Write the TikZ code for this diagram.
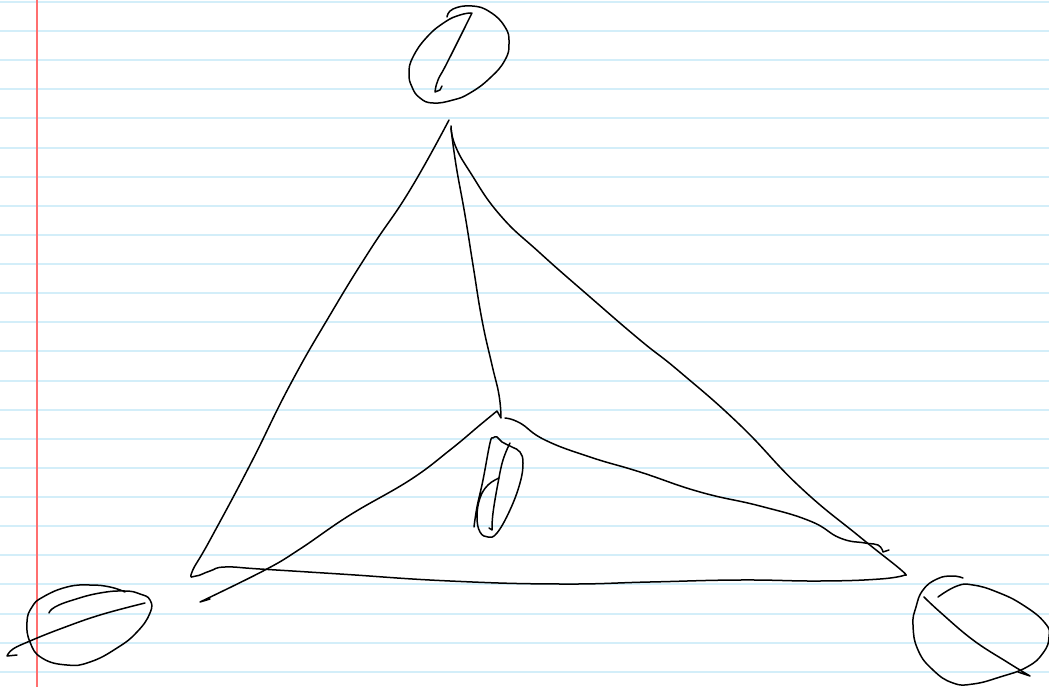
\documentclass[tikz,border=0pt]{standalone}
\definecolor{rulecol}{HTML}{D3EEF9}
\definecolor{margincol}{HTML}{FF6F6F}
\tikzset{
  ruleline/.style={draw=rulecol,line width=2pt},
  marginline/.style={draw=margincol,line width=2pt},
  pen/.style={draw=black,line width=1.5pt,line cap=round,line join=round}
}
\begin{document}
\begin{tikzpicture}[x=1pt,y=-1pt]
\useasboundingbox (0,0) rectangle (1049,687);
\fill[white] (0,0) rectangle (1049,687);
\foreach \k in {0,...,23} \draw[ruleline] (0,{2+29.12*\k}) -- (1049,{2+29.12*\k});
\draw[marginline] (36.5,0) -- (36.5,687);
% top circle
\draw[pen] plot[smooth,tension=0.8] coordinates {(447,17)(453,9)(472,6)(490,12)(505,27)(509,43)(505,60)(490,78)(470,93)(453,100)(433,103)(420,98)(412,87)(409,73)(413,57)(427,37)(445,22)(460,15)(471,13)};
\draw[pen] plot[smooth,tension=0.8] coordinates {(472,13)(447,63)(438,80)(435,92)} -- (440,90) -- (442,86);
% triangle
\draw[pen] plot[smooth,tension=0.8] coordinates {(449,120)(410,190)(370,250)(330,315)(290,385)(250,465)(210,540)(192,572)(196,576)(210,571)(225,567)(260,569)(340,574)(450,581)(560,584)(650,582)(740,580)(820,581)(880,579)(905,575)};
\draw[pen] plot[smooth,tension=0.8] coordinates {(905,575)(900,569)(860,537)(800,487)(740,425)(680,372)(640,340)(590,297)(540,253)(500,215)(470,172)(455,145)(451,126)};
% centre spoke and lower-left spoke
\draw[pen] plot[smooth,tension=0.8] coordinates {(451,128)(456,165)(465,215)(473,265)(482,320)(492,365)(499,395)(501,418)} -- (497,411)
  plot[smooth,tension=0.7] coordinates {(497,411)(480,425)(450,450)(410,480)(350,515)(300,549)(265,570)(200,602)} -- (210,599);
% right spoke
\draw[pen] plot[smooth,tension=0.8] coordinates {(505,418)(520,423)(545,440)(590,457)(640,472)(700,492)(760,506)(810,521)(840,538)(865,543)(878,545)(883,552)} -- (889,550);
% centre loop
\draw[pen] plot[smooth,tension=0.7] coordinates {(474,527)(477,507)(483,480)(490,443)(493,438)(497,437)(502,442)(512,447)(520,452)(523,463)(520,483)(510,510)(497,533)(488,537)(480,532)(477,517)(480,498)(488,485)(499,478)};
\draw[pen] plot[smooth,tension=0.7] coordinates {(510,443)(503,460)(498,483)(493,513)(492,530)} -- (489,528);
% bottom-left loop
\draw[pen] plot[smooth,tension=0.8] coordinates {(125,592)(110,587)(90,585)(67,587)(43,597)(32,607)(27,622)(30,642)(42,658)(67,665)(90,662)(117,648)(137,632)(150,613)(150,600)(140,594)(125,591)(100,593)(73,600)(55,607)(49,613)};
\draw[pen] plot[smooth,tension=0.7] coordinates {(145,603)(100,615)(60,629)(30,641)(13,649)(7,656)} -- (17,655);
% bottom-right loop
\draw[pen] plot[smooth,tension=0.8] coordinates {(963,578)(952,576)(937,579)(923,590)(916,607)(913,625)(918,650)(933,670)(953,683)(973,684)(1000,677)(1027,667)(1043,653)(1049,637)(1045,623)(1023,605)(997,592)(973,585)(957,586)(938,597)};
\draw[pen] plot[smooth,tension=0.7] coordinates {(924,597)(940,612)(973,640)(1007,662)(1030,676)} -- (1018,672);
\end{tikzpicture}
\end{document}
